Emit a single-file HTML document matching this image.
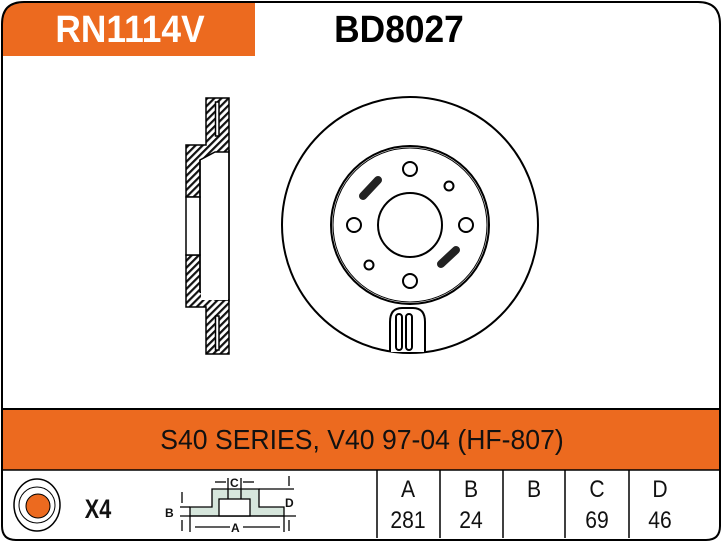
<!DOCTYPE html>
<html><head><style>
body{margin:0;background:#fff;}
svg{display:block;}
</style></head><body>
<svg width="722" height="542" viewBox="0 0 722 542" xmlns="http://www.w3.org/2000/svg">
<defs>
<pattern id="h" width="5" height="5" patternUnits="userSpaceOnUse" patternTransform="rotate(45)">
<rect width="5" height="5" fill="#fff"/><rect width="2.2" height="5" fill="#111"/>
</pattern>
</defs>
<path d="M2,24 Q2,3 24,3 L255,3 L255,56 L2,56 Z" fill="#EC6A1F"/>
<rect x="2" y="409" width="718" height="61" fill="#EC6A1F"/>
<line x1="2" y1="409" x2="720" y2="409" stroke="#000" stroke-width="2"/>
<line x1="2" y1="470" x2="720" y2="470" stroke="#000" stroke-width="1.5"/>
<path d="M2,24 Q2,2 24,2 L698,2 Q720,2 720,24 L720,526 Q720,540 706,540 L16,540 Q2,540 2,526 Z" fill="none" stroke="#000" stroke-width="2"/>
<text x="130" y="42" font-family="Liberation Sans, sans-serif" font-weight="bold" font-size="38" fill="#fff" text-anchor="middle" transform="translate(130 0) scale(0.93 1) translate(-130 0)">RN1114V</text>
<text x="399" y="42" font-family="Liberation Sans, sans-serif" font-weight="bold" font-size="38" fill="#000" text-anchor="middle" transform="translate(399 0) scale(0.93 1) translate(-399 0)">BD8027</text>
<text x="362" y="449" font-family="Liberation Sans, sans-serif" font-size="28" fill="#111" text-anchor="middle" transform="translate(362 0) scale(0.95 1) translate(-362 0)">S40 SERIES, V40 97-04 (HF-807)</text>

<g stroke="#000" stroke-width="1.5">
<path d="M206,98 L229,98 L229,354 L206,354 L206,307 L186,307 L186,255 L200,255 L200,292 L215,300 L229,300 L229,152 L215,152 L200,160 L200,197 L186,197 L186,145 L206,145 Z" fill="url(#h)"/>
<rect x="186" y="197" width="14" height="58" fill="#fff"/>
<rect x="215.5" y="102" width="3.5" height="34" fill="#fff"/>
<rect x="215.5" y="316" width="3.5" height="34" fill="#fff"/>
<rect x="201" y="160" width="27" height="140" fill="#fff" stroke="none"/>
<line x1="229" y1="150" x2="229" y2="302"/>
<line x1="200" y1="160" x2="200" y2="292"/>
</g>

<g fill="none" stroke="#000" stroke-width="2">
<circle cx="410" cy="225" r="128"/>
<circle cx="410" cy="225" r="79"/>
<circle cx="410" cy="225" r="77" stroke-width="1"/>
<circle cx="410" cy="225" r="32"/>
<circle cx="410" cy="169" r="7"/>
<circle cx="410" cy="281" r="7"/>
<circle cx="354" cy="225" r="7"/>
<circle cx="466" cy="225" r="7"/>
<circle cx="449" cy="186" r="4.5"/>
<circle cx="369" cy="265" r="4.5"/>
</g>
<path d="M363,196 L378,180" stroke="#222" stroke-width="8" stroke-linecap="round"/>
<path d="M441,264 L456,250" stroke="#222" stroke-width="8" stroke-linecap="round"/>
<path d="M390,352 L390,322 Q390,308 402,308 L413,308 Q425,308 425,322 L425,352" fill="#fff" stroke="#000" stroke-width="2"/>
<rect x="396" y="314" width="6" height="36" rx="3" fill="none" stroke="#000" stroke-width="2"/>
<rect x="406" y="314" width="6" height="36" rx="3" fill="none" stroke="#000" stroke-width="2"/>

<g stroke="#000" stroke-width="1.5">
<line x1="377" y1="470" x2="377" y2="538"/>
<line x1="440" y1="470" x2="440" y2="538"/>
<line x1="503" y1="470" x2="503" y2="538"/>
<line x1="565" y1="470" x2="565" y2="538"/>
<line x1="629" y1="470" x2="629" y2="538"/>
</g>
<g font-family="Liberation Sans, sans-serif" font-size="24" fill="#111" text-anchor="middle">
<text x="408" y="497" transform="translate(408 0) scale(0.88 1) translate(-408 0)">A</text>
<text x="471" y="497" transform="translate(471 0) scale(0.88 1) translate(-471 0)">B</text>
<text x="534" y="497" transform="translate(534 0) scale(0.88 1) translate(-534 0)">B</text>
<text x="597" y="497" transform="translate(597 0) scale(0.88 1) translate(-597 0)">C</text>
<text x="660" y="497" transform="translate(660 0) scale(0.88 1) translate(-660 0)">D</text>
<text x="408" y="528" transform="translate(408 0) scale(0.88 1) translate(-408 0)">281</text>
<text x="471" y="528" transform="translate(471 0) scale(0.88 1) translate(-471 0)">24</text>
<text x="597" y="528" transform="translate(597 0) scale(0.88 1) translate(-597 0)">69</text>
<text x="660" y="528" transform="translate(660 0) scale(0.88 1) translate(-660 0)">46</text>
</g>
<ellipse cx="37" cy="505" rx="23" ry="26" fill="#fff" stroke="#000" stroke-width="1.5"/>
<circle cx="37" cy="505" r="18" fill="none" stroke="#000" stroke-width="1"/>
<circle cx="38" cy="506" r="12" fill="#EC6A1F" stroke="#000" stroke-width="1"/>
<text x="98" y="518" font-family="Liberation Sans, sans-serif" font-weight="bold" font-size="27" fill="#111" text-anchor="middle" transform="translate(98 0) scale(0.8 1) translate(-98 0)">X4</text>
<g stroke="#000" stroke-width="1.3">
<path d="M190,516 L190,507 L212,507 L212,489 L259,489 L259,507 L284,507 L284,516 Z" fill="#d6e6dc"/>
<rect x="219" y="499" width="31" height="17" fill="#fff"/>
<line x1="228" y1="478" x2="228" y2="499"/><line x1="241" y1="478" x2="241" y2="499"/>
<line x1="259" y1="489" x2="294" y2="489"/>
<line x1="180" y1="507" x2="190" y2="507"/><line x1="180" y1="516" x2="296" y2="516"/>
<line x1="190" y1="516" x2="190" y2="532"/><line x1="284" y1="516" x2="284" y2="532"/>
<line x1="195" y1="527" x2="230" y2="527"/><line x1="243" y1="527" x2="280" y2="527"/>
<line x1="215" y1="482" x2="226" y2="482"/><line x1="243" y1="482" x2="254" y2="482"/>
<line x1="182" y1="492" x2="182" y2="503"/><line x1="182" y1="520" x2="182" y2="531"/>
<line x1="289" y1="476" x2="289" y2="486"/><line x1="289" y1="520" x2="289" y2="531"/>
</g>
<g font-family="Liberation Sans, sans-serif" font-weight="bold" font-size="12" fill="#111">
<text x="230" y="487">C</text><text x="285" y="507">D</text><text x="165" y="517">B</text><text x="231" y="532">A</text>
</g>
</svg>
</body></html>
